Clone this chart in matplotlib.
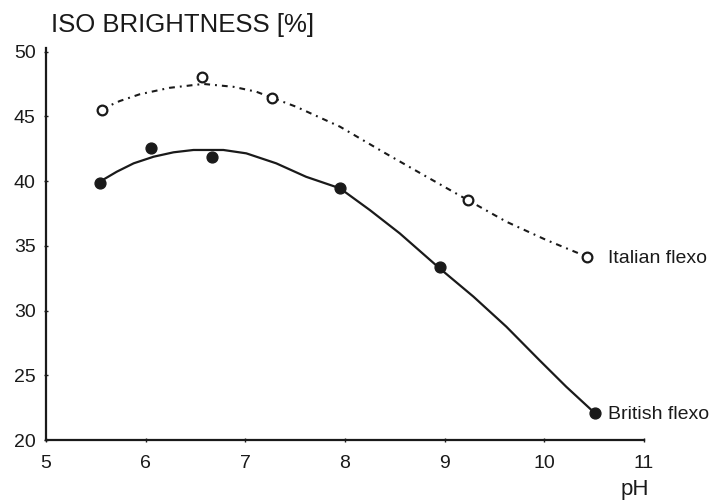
import matplotlib
matplotlib.use("Agg")
import matplotlib.pyplot as plt

plt.rcParams['font.family'] = ['Liberation Sans', 'DejaVu Sans']

# measured points
italian_ph = [5.56, 6.57, 7.27, 9.23, 10.43]
italian_br = [45.5, 48.0, 46.45, 38.5, 34.15]
british_ph = [5.54, 6.05, 6.67, 7.95, 8.95, 10.51]
british_br = [39.87, 42.57, 41.88, 39.48, 33.34, 22.06]

# smoothed curves
italian_curve_ph = [5.56, 5.74, 5.94, 6.24, 6.58, 6.88, 7.11, 7.26, 7.51, 7.95,
                    8.38, 8.82, 9.24, 9.62, 10.02, 10.43]
italian_curve_br = [45.55, 46.18, 46.7, 47.2, 47.5, 47.28, 46.9, 46.46, 45.74, 44.2,
                    42.26, 40.33, 38.5, 36.86, 35.45, 34.15]
british_curve_ph = [5.54, 5.71, 5.88, 6.08, 6.28, 6.48, 6.78, 7.01, 7.31, 7.61,
                    7.95, 8.25, 8.55, 8.95, 9.29, 9.62, 9.95, 10.22, 10.51]
british_curve_br = [39.95, 40.72, 41.37, 41.88, 42.22, 42.4, 42.4, 42.14, 41.37, 40.33,
                    39.44, 37.76, 35.96, 33.26, 31.07, 28.75, 26.18, 24.12, 22.06]

x_ticks = [5, 6, 7, 8, 9, 10, 11]
y_ticks = [20, 25, 30, 35, 40, 45, 50]

ink = '#1a1a1a'

fig = plt.figure(figsize=(7.23, 5.03), dpi=100)
ax = fig.add_axes([0.0636, 0.1252, 0.827, 0.78])

ax.plot(italian_curve_ph, italian_curve_br, color=ink, lw=1.5,
        linestyle=(0, (2.8, 2.4, 0.9, 2.4)))
ax.plot(british_curve_ph, british_curve_br, color=ink, lw=1.6)
ax.plot(italian_ph, italian_br, 'o', ms=7, mfc='white', mec=ink, mew=1.6)
ax.plot(british_ph, british_br, 'o', ms=7.8, color=ink)

ax.set_xlim(5, 11)
ax.set_ylim(20, 50.3)
ax.set_xticks(x_ticks)
ax.set_yticks(y_ticks)
ax.tick_params(direction='inout', length=3, width=1, colors=ink,
               labelsize=14, pad=6)
ax.tick_params(axis='x', pad=9)
for s in ['top', 'right']:
    ax.spines[s].set_visible(False)
for s in ['left', 'bottom']:
    ax.spines[s].set_color(ink)
    ax.spines[s].set_linewidth(1.6)

ax.text(10.64, 34.0, 'Italian flexo', fontsize=14, color=ink, va='center')
ax.text(10.64, 22.0, 'British flexo', fontsize=14, color=ink, va='center')
fig.text(0.878, 0.026, 'pH', fontsize=16, color=ink, ha='center', va='center')
fig.text(0.071, 0.95, 'ISO BRIGHTNESS [%]', fontsize=18.5, color=ink,
         ha='left', va='center')

fig.savefig('out.png', dpi=100)
